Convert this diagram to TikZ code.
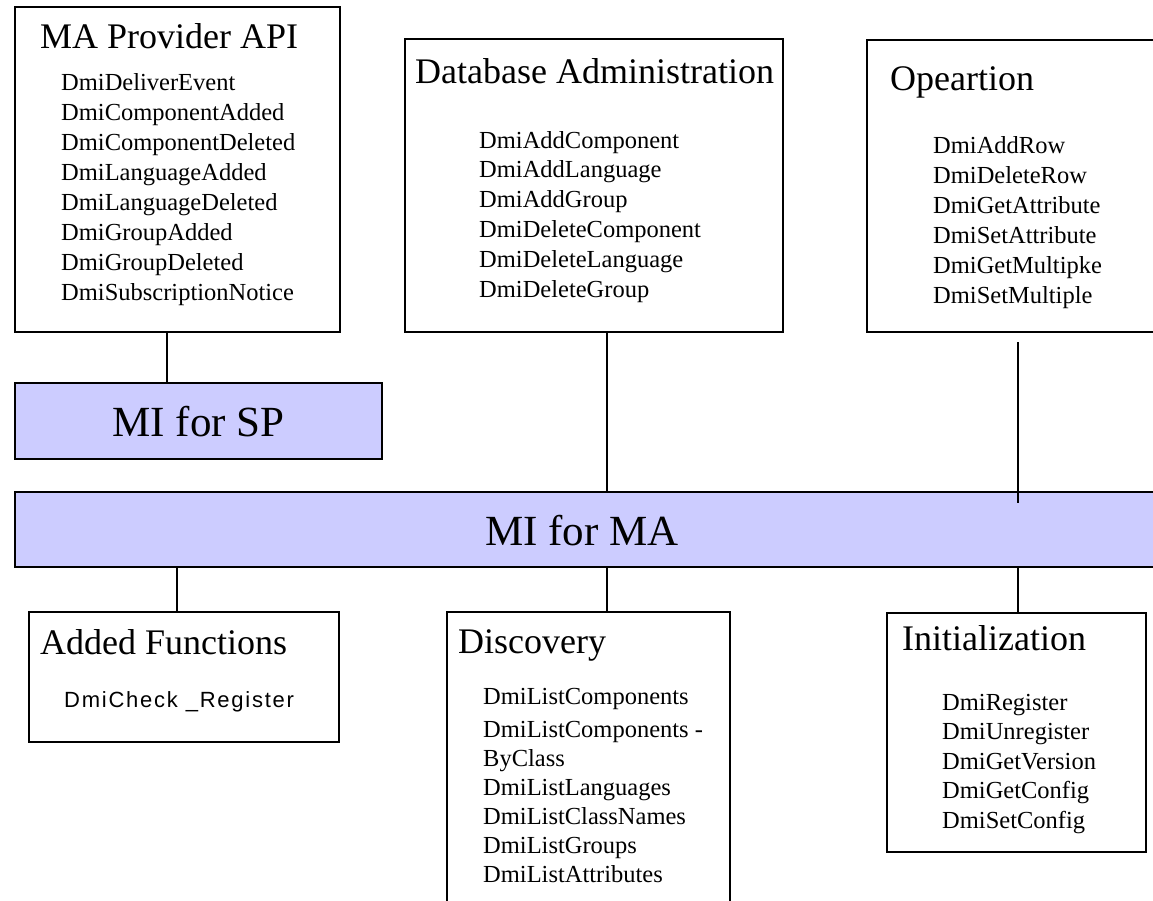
\documentclass[tikz,border=0pt]{standalone}
\usepackage{fontspec}
\setmainfont{Liberation Serif}
\newfontfamily\arialsp[LetterSpace=8]{Liberation Sans}
\definecolor{milav}{RGB}{204,204,255}
\begin{document}
\begin{tikzpicture}[x=1pt,y=-1pt,
  box/.style={draw=black, line width=1.2pt, fill=white, rectangle, inner sep=0pt, outer sep=0pt, anchor=north west},
  mibox/.style={box, fill=milav},
  ttl/.style={anchor=base west, inner sep=0pt, font=\fontsize{36}{42}\selectfont},
  itm/.style={anchor=base west, inner sep=0pt, font=\fontsize{24.5}{30}\selectfont},
  milbl/.style={anchor=base, inner sep=0pt, font=\fontsize{43}{50}\selectfont},
  link/.style={draw=black, line width=1.2pt}]
\useasboundingbox (0,0) rectangle (1153,900);
\clip (0,0) rectangle (1153,900);
\fill[white] (0,0) rectangle (1153,900);

% boxes
\node[box, minimum width=325pt, minimum height=325pt] (ma) at (15,7) {};
\node[box, minimum width=378pt, minimum height=293pt] (db) at (405,39) {};
\node[box, minimum width=300pt, minimum height=292pt] (op) at (867,40) {};
\node[mibox, minimum width=367pt, minimum height=76pt] (misp) at (15,383) {};
\node[mibox, minimum width=1150pt, minimum height=75pt] (mima) at (15,492) {};
\node[box, minimum width=310pt, minimum height=130pt] (af) at (29,612) {};
\node[box, minimum width=283pt, minimum height=300pt] (disc) at (447,612) {};
\node[box, minimum width=259pt, minimum height=239pt] (init) at (887,613) {};

% connector x positions
\coordinate (c1) at (167,0);
\coordinate (c2) at (607,0);
\coordinate (c3) at (1018,0);
\coordinate (c4) at (177,0);
\coordinate (opa) at (1018,342);
\coordinate (opb) at (1018,503);

\draw[link] (ma.south -| c1) -- (misp.north -| c1);
\draw[link] (db.south -| c2) -- (mima.north -| c2);
\draw[link] (opa) -- (opb);
\draw[link] (mima.south -| c4) -- (af.north -| c4);
\draw[link] (mima.south -| c2) -- (disc.north -| c2);
\draw[link] (mima.south -| c3) -- (init.north -| c3);

% big labels
\node[milbl] (lsp) at (198.5,436) {MI for SP};
\node[milbl] (lma) at (582,545) {MI for MA};

% titles
\node[ttl] (tma) at (40,48) {MA Provider API};
\node[ttl] (tdb) at (415,83) {Database Administration};
\node[ttl] (top) at (890,90) {Opeartion};
\node[ttl] (taf) at (40,654) {Added Functions};
\node[ttl] (tdi) at (458,653) {Discovery};
\node[ttl] (tin) at (902,650) {Initialization};

% lists
\foreach \t [count=\i from 0] in {DmiDeliverEvent,DmiComponentAdded,DmiComponentDeleted,DmiLanguageAdded,DmiLanguageDeleted,DmiGroupAdded,DmiGroupDeleted,DmiSubscriptionNotice}
  \node[itm] (ma\i) at (61,{90+30.1*\i}) {\t};
\foreach \t [count=\i from 0] in {DmiAddComponent,DmiAddLanguage,DmiAddGroup,DmiDeleteComponent,DmiDeleteLanguage,DmiDeleteGroup}
  \node[itm] (db\i) at (479,{148+29.8*\i}) {\t};
\foreach \t [count=\i from 0] in {DmiAddRow,DmiDeleteRow,DmiGetAttribute,DmiSetAttribute,DmiGetMultipke,DmiSetMultiple}
  \node[itm] (op\i) at (933,{153+30*\i}) {\t};
\foreach \t/\yy [count=\i from 0] in {DmiListComponents/704,DmiListComponents -/737,ByClass/766,DmiListLanguages/795,DmiListClassNames/824,DmiListGroups/853,DmiListAttributes/882}
  \node[itm] (di\i) at (483,\yy) {\t};
\foreach \t [count=\i from 0] in {DmiRegister,DmiUnregister,DmiGetVersion,DmiGetConfig,DmiSetConfig}
  \node[itm] (in\i) at (942,{710+29.5*\i}) {\t};

\node[anchor=base west, inner sep=0pt, font=\arialsp\fontsize{22}{26}\selectfont] (afi) at (64,707) {DmiCheck \_Register};
\end{tikzpicture}
\end{document}
